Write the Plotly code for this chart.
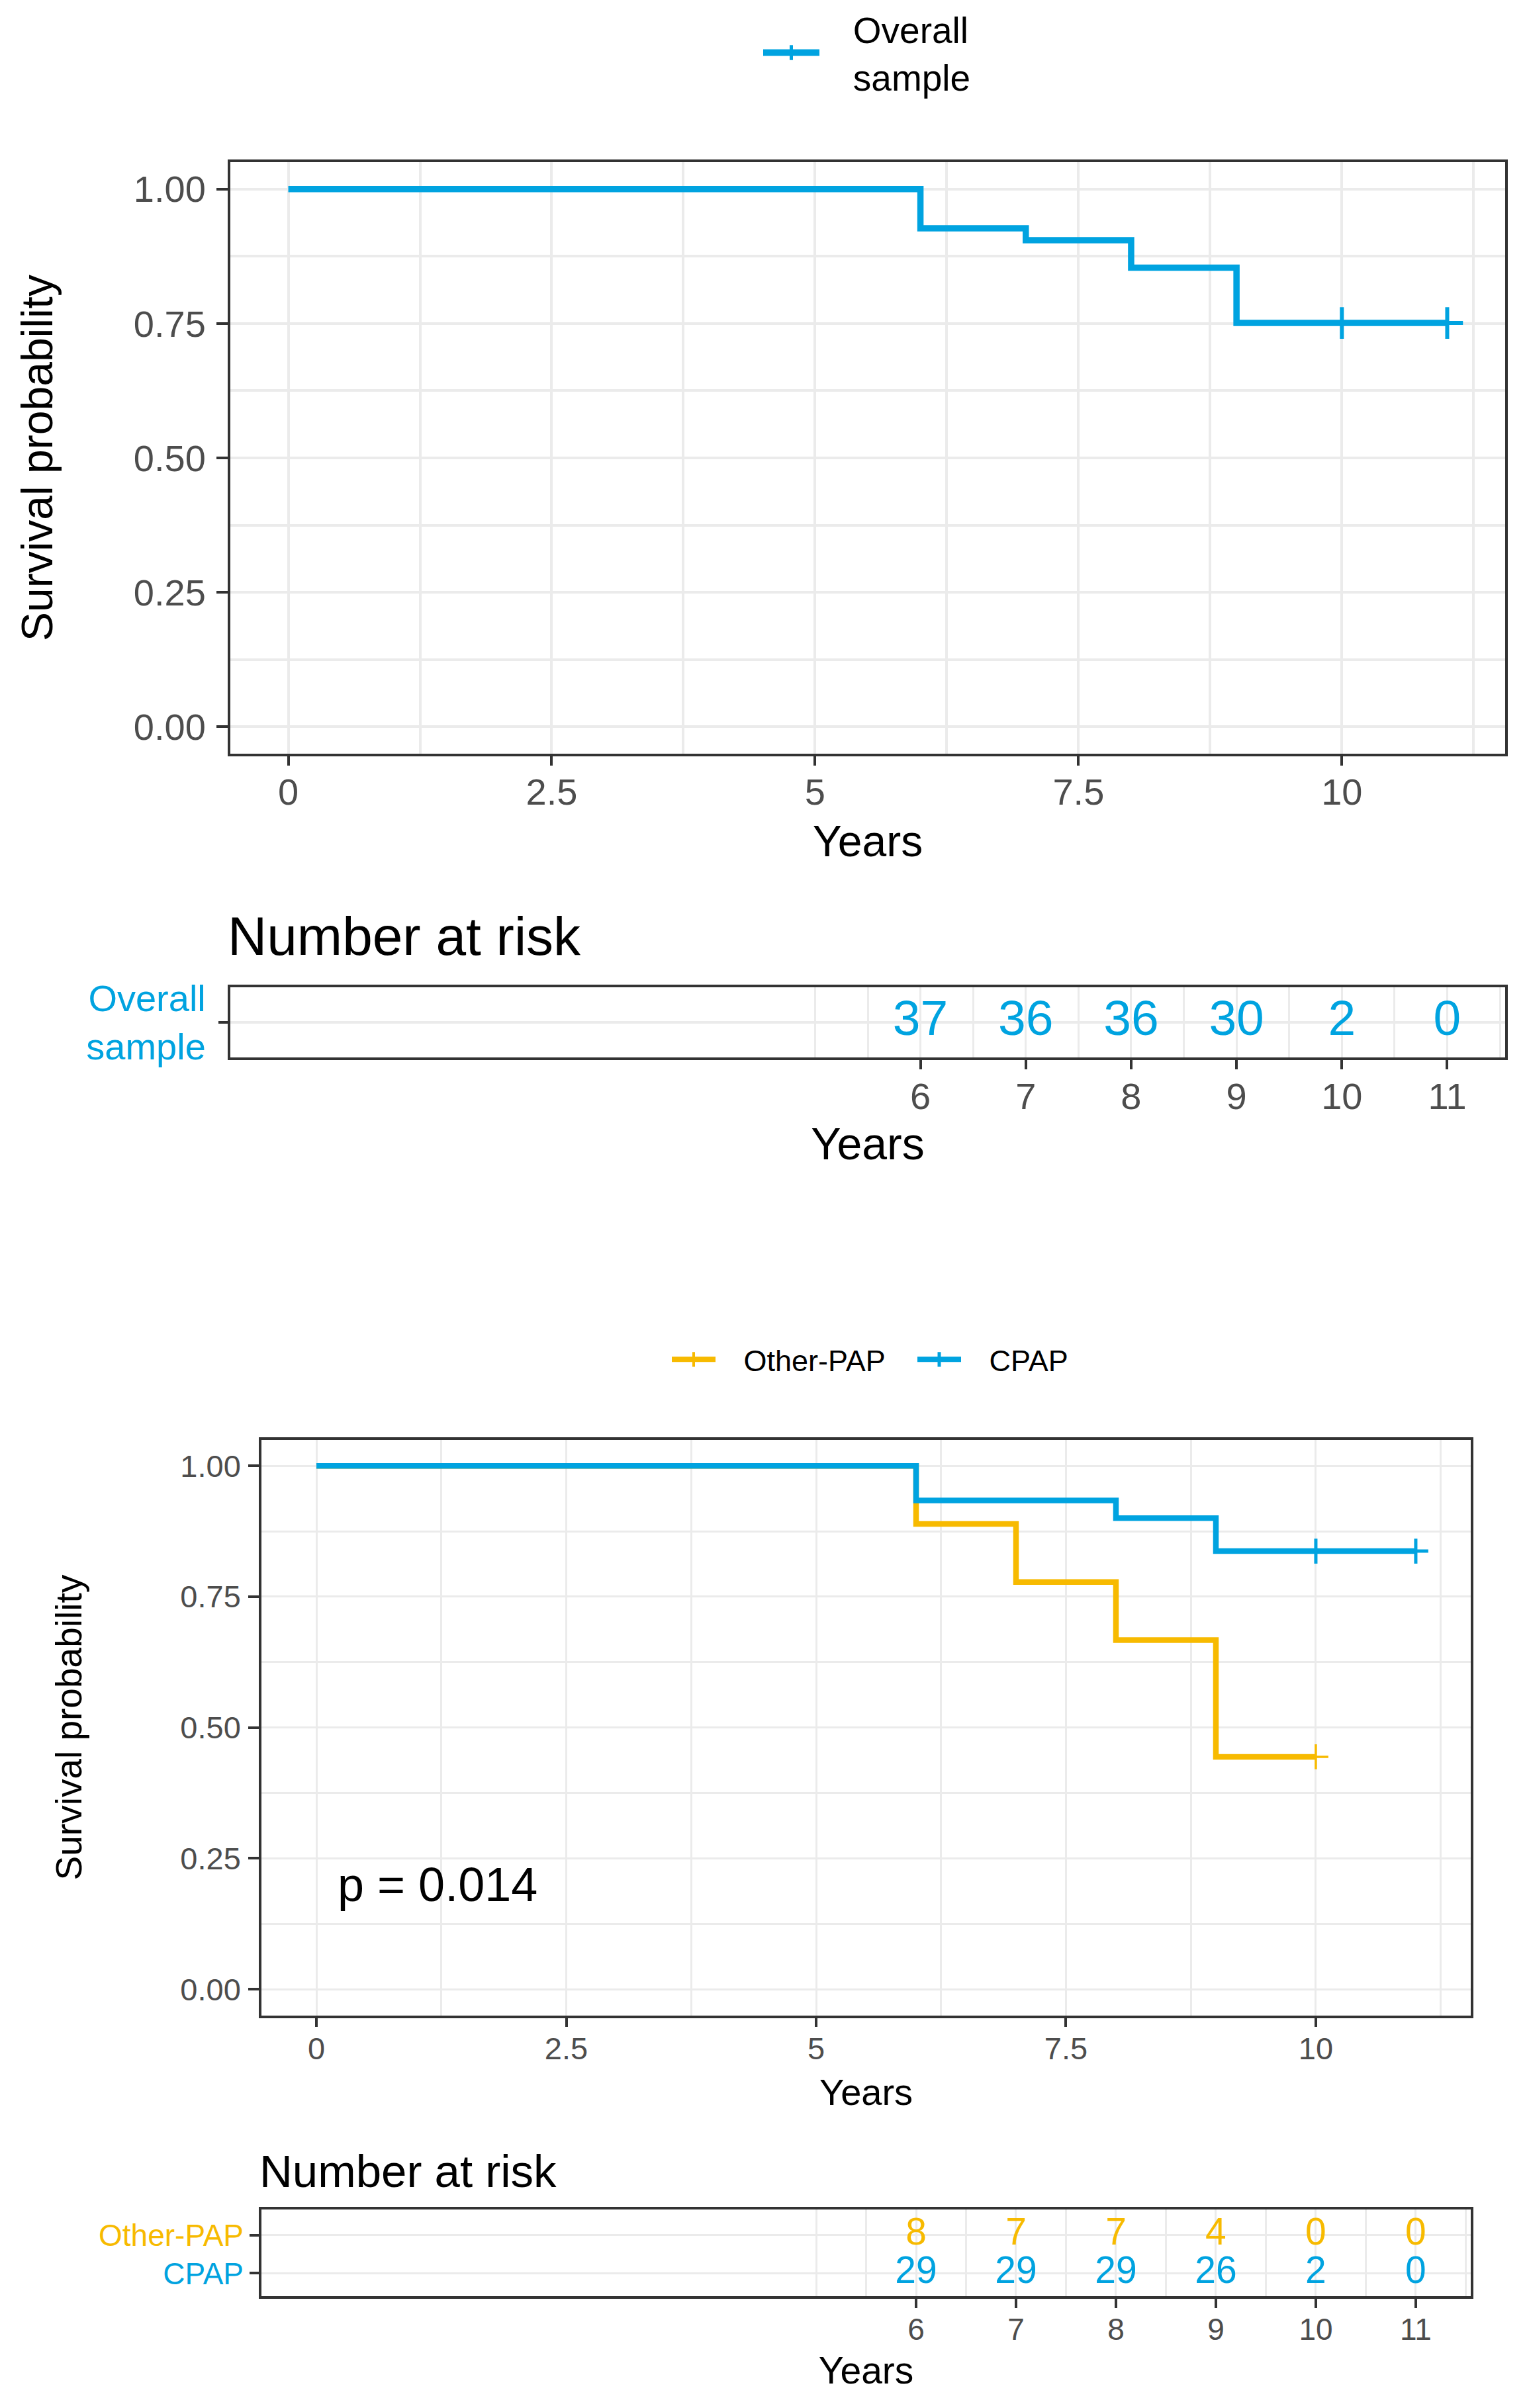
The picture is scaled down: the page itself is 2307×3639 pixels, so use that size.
import plotly.graph_objects as go

# ------------------------------------------------------------------ data
overall_time = [0, 6, 7, 8, 9, 11]
overall_surv = [1.0, 0.927, 0.905, 0.854, 0.751, 0.751]
overall_censor_time = [10, 11]
overall_censor_surv = [0.751, 0.751]

other_time = [0, 6, 7, 8, 9, 10]
other_surv = [1.0, 0.889, 0.778, 0.667, 0.444, 0.444]
other_censor_time = [10]
other_censor_surv = [0.444]

cpap_time = [0, 6, 8, 9, 11]
cpap_surv = [1.0, 0.934, 0.900, 0.837, 0.837]
cpap_censor_time = [10, 11]
cpap_censor_surv = [0.837, 0.837]

risk_times = [6, 7, 8, 9, 10, 11]
overall_risk = [37, 36, 36, 30, 2, 0]
other_risk = [8, 7, 7, 4, 0, 0]
cpap_risk = [29, 29, 29, 26, 2, 0]

p_value_label = "p = 0.014"

x_ticks = [0, 2.5, 5, 7.5, 10]
x_ticklabels = ["0", "2.5", "5", "7.5", "10"]
x_minor = [1.25, 3.75, 6.25, 8.75, 11.25]
y_ticks = [0, 0.25, 0.5, 0.75, 1.0]
y_ticklabels = ["0.00", "0.25", "0.50", "0.75", "1.00"]
y_minor = [0.125, 0.375, 0.625, 0.875]
risk_minor = [5, 5.5, 6.5, 7.5, 8.5, 9.5, 10.5, 11.5]

# ------------------------------------------------------------------ style
W, H = 2307, 3639
BLUE = "#00A3E0"
ORANGE = "#F7BA00"
FRAME = "#333333"
GRID = "#EBEBEB"
TICKC = "#4D4D4D"
FONT = "Liberation Sans, Arial, sans-serif"
GAP = "\u00a0\u00a0\u00a0"  # spacing between legend key and its label


def px_x(p):
    return p / W


def px_y(p):
    return 1 - p / H


fig = go.Figure()

# ---------------- top: overall survival
fig.add_trace(go.Scatter(x=overall_time, y=overall_surv, mode="lines",
                         line=dict(color=BLUE, width=9.5, shape="hv"),
                         showlegend=False, xaxis="x", yaxis="y", hoverinfo="skip"))
fig.add_trace(go.Scatter(x=overall_censor_time, y=overall_censor_surv, mode="markers",
                         marker=dict(symbol="cross-thin", size=34, color=BLUE,
                                     line=dict(color=BLUE, width=6)),
                         showlegend=False, xaxis="x", yaxis="y", hoverinfo="skip"))
fig.add_trace(go.Scatter(x=[None], y=[None], mode="lines+markers",
                         name=GAP + "Overall<br>" + GAP + "sample",
                         line=dict(color=BLUE, width=10),
                         marker=dict(symbol="cross-thin", size=16, color=BLUE,
                                     line=dict(color=BLUE, width=6)),
                         xaxis="x", yaxis="y", legend="legend"))

# ---------------- top: risk table
fig.add_trace(go.Scatter(x=risk_times, y=["Overall sample"] * len(risk_times), mode="text",
                         text=[str(v) for v in overall_risk],
                         textfont=dict(size=75, color=BLUE, family=FONT),
                         showlegend=False, xaxis="x2", yaxis="y2", hoverinfo="skip",
                         cliponaxis=False))

# ---------------- bottom: survival by group
fig.add_trace(go.Scatter(x=[None], y=[None], mode="lines+markers", name=GAP + "Other-PAP",
                         line=dict(color=ORANGE, width=8),
                         marker=dict(symbol="cross-thin", size=16, color=ORANGE,
                                     line=dict(color=ORANGE, width=4)),
                         xaxis="x3", yaxis="y3", legend="legend2"))
fig.add_trace(go.Scatter(x=[None], y=[None], mode="lines+markers", name=GAP + "CPAP",
                         line=dict(color=BLUE, width=8),
                         marker=dict(symbol="cross-thin", size=16, color=BLUE,
                                     line=dict(color=BLUE, width=5)),
                         xaxis="x3", yaxis="y3", legend="legend2"))
fig.add_trace(go.Scatter(x=other_time, y=other_surv, mode="lines",
                         line=dict(color=ORANGE, width=8.5, shape="hv"),
                         showlegend=False, xaxis="x3", yaxis="y3", hoverinfo="skip"))
fig.add_trace(go.Scatter(x=cpap_time, y=cpap_surv, mode="lines",
                         line=dict(color=BLUE, width=8.5, shape="hv"),
                         showlegend=False, xaxis="x3", yaxis="y3", hoverinfo="skip"))
fig.add_trace(go.Scatter(x=other_censor_time, y=other_censor_surv, mode="markers",
                         marker=dict(symbol="cross-thin", size=27, color=ORANGE,
                                     line=dict(color=ORANGE, width=3.5)),
                         showlegend=False, xaxis="x3", yaxis="y3", hoverinfo="skip"))
fig.add_trace(go.Scatter(x=cpap_censor_time, y=cpap_censor_surv, mode="markers",
                         marker=dict(symbol="cross-thin", size=27, color=BLUE,
                                     line=dict(color=BLUE, width=5)),
                         showlegend=False, xaxis="x3", yaxis="y3", hoverinfo="skip"))

# ---------------- bottom: risk table
fig.add_trace(go.Scatter(x=risk_times, y=["Other-PAP"] * len(risk_times), mode="text",
                         text=[str(v) for v in other_risk],
                         textfont=dict(size=57, color=ORANGE, family=FONT),
                         showlegend=False, xaxis="x4", yaxis="y4", hoverinfo="skip",
                         cliponaxis=False))
fig.add_trace(go.Scatter(x=risk_times, y=["CPAP"] * len(risk_times), mode="text",
                         text=[str(v) for v in cpap_risk],
                         textfont=dict(size=57, color=BLUE, family=FONT),
                         showlegend=False, xaxis="x4", yaxis="y4", hoverinfo="skip",
                         cliponaxis=False))


def frame_axis(lw, gw, tickfs, **kw):
    d = dict(showline=True, mirror=True, linecolor=FRAME, linewidth=lw,
             ticks="outside", ticklen=14, tickwidth=lw, tickcolor=FRAME,
             showgrid=True, gridcolor=GRID, gridwidth=gw, zeroline=False,
             tickfont=dict(size=tickfs, color=TICKC, family=FONT))
    d.update(kw)
    return d


XR = [-0.55, 11.55]
YR = [-0.05, 1.05]

layout = dict(
    width=W, height=H, margin=dict(l=0, r=0, t=0, b=0),
    paper_bgcolor="white", plot_bgcolor="white",
    font=dict(family=FONT, color="black"),
    xaxis=frame_axis(4, 3.5, 56, domain=[px_x(348), px_x(2274)], range=XR, anchor="y",
                     tickmode="array", tickvals=x_ticks, ticktext=x_ticklabels,
                     ticklabelstandoff=-8,
                     minor=dict(tickmode="array", tickvals=x_minor, showgrid=True,
                                gridcolor=GRID, gridwidth=3.5, ticks=""),
                     title=dict(text="Years", font=dict(size=66, color="black"), standoff=22)),
    yaxis=frame_axis(4, 3.5, 56, domain=[px_y(1134), px_y(233)], range=YR, anchor="x",
                     tickmode="array", tickvals=y_ticks, ticktext=y_ticklabels,
                     ticklen=17, ticklabelstandoff=5,
                     minor=dict(tickmode="array", tickvals=y_minor, showgrid=True,
                                gridcolor=GRID, gridwidth=3.5, ticks=""),
                     title=dict(text="Survival probability", font=dict(size=66, color="black"),
                                standoff=102)),
    xaxis2=frame_axis(4, 3, 56, domain=[px_x(348), px_x(2274)], range=XR, anchor="y2",
                      tickmode="array", tickvals=risk_times,
                      ticktext=[str(t) for t in risk_times], ticklabelstandoff=-7,
                      minor=dict(tickmode="array", tickvals=risk_minor, showgrid=True,
                                 gridcolor=GRID, gridwidth=2.5, ticks=""),
                      title=dict(text="Years", font=dict(size=68, color="black"), standoff=18)),
    yaxis2=frame_axis(4, 3.5, 56, domain=[px_y(1597), px_y(1490)], anchor="x2",
                      type="category", categoryarray=["Overall sample"], range=[-0.5, 0.5],
                      tickmode="array", tickvals=["Overall sample"], ticklabelstandoff=8,
                      ticktext=["<span style='color:%s'>Overall<br>sample</span>" % BLUE]),
    xaxis3=frame_axis(3.5, 3, 47, domain=[px_x(395), px_x(2222)], range=XR, anchor="y3",
                      tickmode="array", tickvals=x_ticks, ticktext=x_ticklabels,
                      ticklabelstandoff=-8,
                      minor=dict(tickmode="array", tickvals=x_minor, showgrid=True,
                                 gridcolor=GRID, gridwidth=3, ticks=""),
                      title=dict(text="Years", font=dict(size=56, color="black"), standoff=22)),
    yaxis3=frame_axis(3.5, 3, 47, domain=[px_y(3056), px_y(2179)], range=YR, anchor="x3",
                      tickmode="array", tickvals=y_ticks, ticktext=y_ticklabels,
                      ticklen=16, ticklabelstandoff=2,
                      minor=dict(tickmode="array", tickvals=y_minor, showgrid=True,
                                 gridcolor=GRID, gridwidth=3, ticks=""),
                      title=dict(text="Survival probability", font=dict(size=55, color="black"),
                                 standoff=132)),
    xaxis4=frame_axis(3.5, 2.5, 46, domain=[px_x(395), px_x(2222)], range=XR, anchor="y4",
                      tickmode="array", tickvals=risk_times,
                      ticktext=[str(t) for t in risk_times], ticklabelstandoff=-7,
                      minor=dict(tickmode="array", tickvals=risk_minor, showgrid=True,
                                 gridcolor=GRID, gridwidth=2.5, ticks=""),
                      title=dict(text="Years", font=dict(size=57, color="black"), standoff=18)),
    yaxis4=frame_axis(3.5, 3, 46, domain=[px_y(3484), px_y(3352)], anchor="x4",
                      type="category", categoryarray=["CPAP", "Other-PAP"], range=[-0.6, 1.66],
                      tickmode="array", tickvals=["Other-PAP", "CPAP"],
                      ticktext=["<span style='color:%s'>Other-PAP</span>" % ORANGE,
                                "<span style='color:%s'>CPAP</span>" % BLUE]),
    legend=dict(orientation="h", x=px_x(1310), xanchor="center", y=px_y(66), yanchor="middle",
                font=dict(size=55, color="black", family=FONT), itemwidth=85,
                bgcolor="rgba(0,0,0,0)"),
    legend2=dict(orientation="h", x=px_x(1381), xanchor="center", y=px_y(2057), yanchor="middle",
                 font=dict(size=45, color="black", family=FONT), itemwidth=66,
                 entrywidth=290, entrywidthmode="pixels",
                 bgcolor="rgba(0,0,0,0)"),
    annotations=[
        dict(text="Number at risk", xref="paper", yref="paper", x=px_x(342), y=px_y(1412),
             xanchor="left", yanchor="middle", showarrow=False,
             font=dict(size=82, color="black", family=FONT)),
        dict(text="Number at risk", xref="paper", yref="paper", x=px_x(390), y=px_y(3294),
             xanchor="left", yanchor="middle", showarrow=False,
             font=dict(size=69, color="black", family=FONT)),
        dict(text=p_value_label, xref="x3", yref="y3", x=0.2, y=0.2,
             xanchor="left", yanchor="middle", showarrow=False,
             font=dict(size=72, color="black", family=FONT)),
    ],
)
fig.update_layout(**layout)
fig.write_html("out.html", config={"displayModeBar": False},
               post_script="document.body.style.margin='0';document.body.style.padding='0';")
